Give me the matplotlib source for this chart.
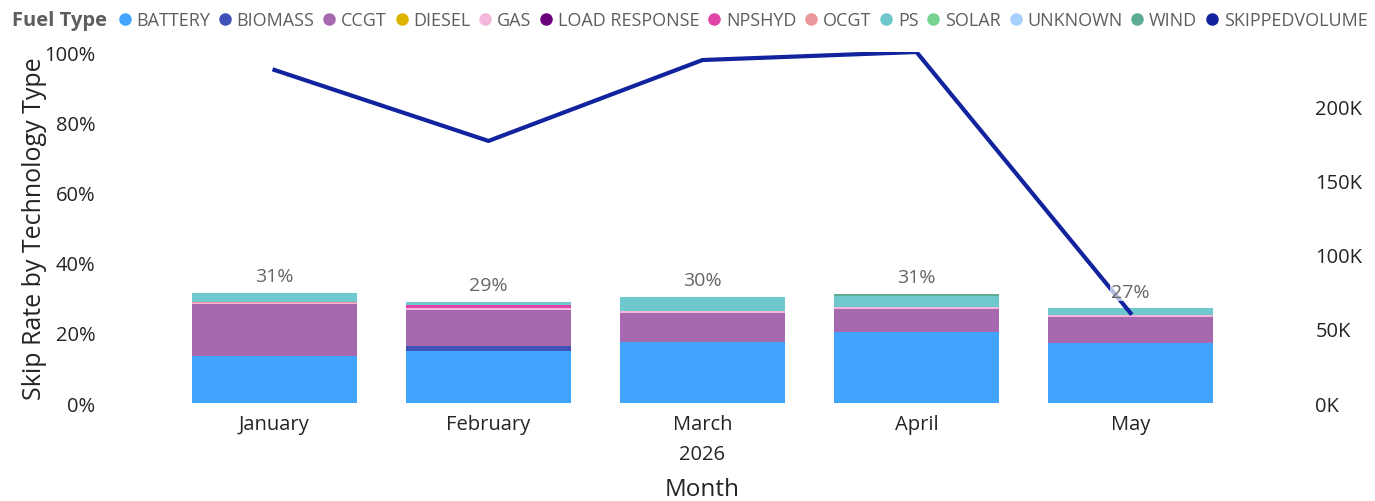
import numpy as np
import matplotlib.pyplot as plt
from matplotlib.lines import Line2D
from matplotlib.ticker import FuncFormatter

plt.rcParams['font.family'] = ['Open Sans', 'DejaVu Sans']

months = ['January', 'February', 'March', 'April', 'May']
fuel_types = ['BATTERY', 'BIOMASS', 'CCGT', 'DIESEL', 'GAS', 'LOAD RESPONSE',
              'NPSHYD', 'OCGT', 'PS', 'SOLAR', 'UNKNOWN', 'WIND']
colors = ['#41A5FF', '#3E52B8', '#A668AE', '#DDB300', '#F4B6DA', '#6B007B',
          '#E044A7', '#E8979B', '#6FC8CE', '#74D38E', '#A7D2FF', '#5FAB96']

# skip rate (%) per fuel type, one list per month
battery = [13.5, 14.8, 17.3, 20.1, 17.1]
biomass = [0.0, 1.3, 0.0, 0.0, 0.0]
ccgt = [14.7, 10.5, 8.4, 6.8, 7.4]
diesel = [0.0, 0.0, 0.0, 0.0, 0.0]
gas = [0.3, 0.4, 0.5, 0.4, 0.6]
load_response = [0.0, 0.0, 0.0, 0.0, 0.0]
npshyd = [0.0, 0.9, 0.0, 0.0, 0.0]
ocgt = [0.3, 0.0, 0.0, 0.0, 0.0]
ps = [2.6, 0.9, 4.0, 3.2, 1.9]
solar = [0.0, 0.0, 0.0, 0.0, 0.0]
unknown = [0.0, 0.0, 0.0, 0.0, 0.0]
wind = [0.0, 0.0, 0.0, 0.5, 0.0]
total_labels = ['31%', '29%', '30%', '31%', '27%']

skipped_volume = [224300, 176500, 231000, 236400, 60600]

series = [battery, biomass, ccgt, diesel, gas, load_response,
          npshyd, ocgt, ps, solar, unknown, wind]

fig = plt.figure(figsize=(13.75, 5.02), dpi=100)
ax = fig.add_axes([0.1218, 0.1952, 0.7782, 0.6992])
ax2 = ax.twinx()

x = np.arange(len(months))
bottom = np.zeros(len(months))
for vals, c in zip(series, colors):
    v = np.array(vals) / 100.0
    ax.bar(x, v, 0.77, bottom=bottom, color=c, edgecolor='none', zorder=2)
    bottom += v

for i, lbl in enumerate(total_labels):
    ax2.text(x[i], (bottom[i] + 0.022) * 236400, lbl, ha='center', va='bottom',
             fontsize=14, color='#666666', zorder=5,
             bbox=dict(facecolor='white', alpha=0.7, edgecolor='none', pad=0.5))

ax2.plot(x, skipped_volume, color='#12239E', lw=3, zorder=3)

ax.set_xlim(-0.5, 4.5)
ax.set_ylim(0, 1)
ax2.set_ylim(0, 236400)
ax.set_yticks([0, 0.2, 0.4, 0.6, 0.8, 1.0])
ax.yaxis.set_major_formatter(FuncFormatter(lambda v, p: f'{v*100:.0f}%'))
ax2.set_yticks([0, 50000, 100000, 150000, 200000])
ax2.yaxis.set_major_formatter(FuncFormatter(lambda v, p: f'{v/1000:.0f}K'))

ax.set_xticks(x)
ax.set_xticklabels(months)
for a in (ax, ax2):
    for s in a.spines.values():
        s.set_visible(False)
    a.tick_params(length=0, labelsize=14.5, colors='#252423')
ax.tick_params(axis='y', pad=52)
ax.tick_params(axis='x', pad=8)
ax2.tick_params(axis='y', pad=56)

ax.set_ylabel('Skip Rate by Technology Type', fontsize=18, color='#252423')
ax.yaxis.set_label_coords(-0.124, 0.5)
ax.yaxis.label.set_va('center')
ax.text(2, -0.145, '2026', ha='center', va='center', fontsize=14.5, color='#252423',
        transform=ax.get_xaxis_transform())
ax.set_xlabel('Month', fontsize=17.5, color='#252423')
ax.xaxis.set_label_coords(0.5, -0.245)
ax.xaxis.label.set_va('center')

fig.text(0.009, 0.958, 'Fuel Type', fontsize=14.5, fontweight='bold', color='#605E5C',
         va='center', ha='left')
handles = [Line2D([], [], marker='o', ls='none', color=c, markersize=8)
           for c in colors + ['#12239E']]
fig.legend(handles, fuel_types + ['SKIPPEDVOLUME'], loc='center left',
           bbox_to_anchor=(0.084, 0.958), ncol=13, frameon=False, fontsize=13,
           handletextpad=0.15, columnspacing=0.32, handlelength=1.0,
           labelcolor='#605E5C', borderpad=0, borderaxespad=0)

fig.savefig('out.png', dpi=100)
